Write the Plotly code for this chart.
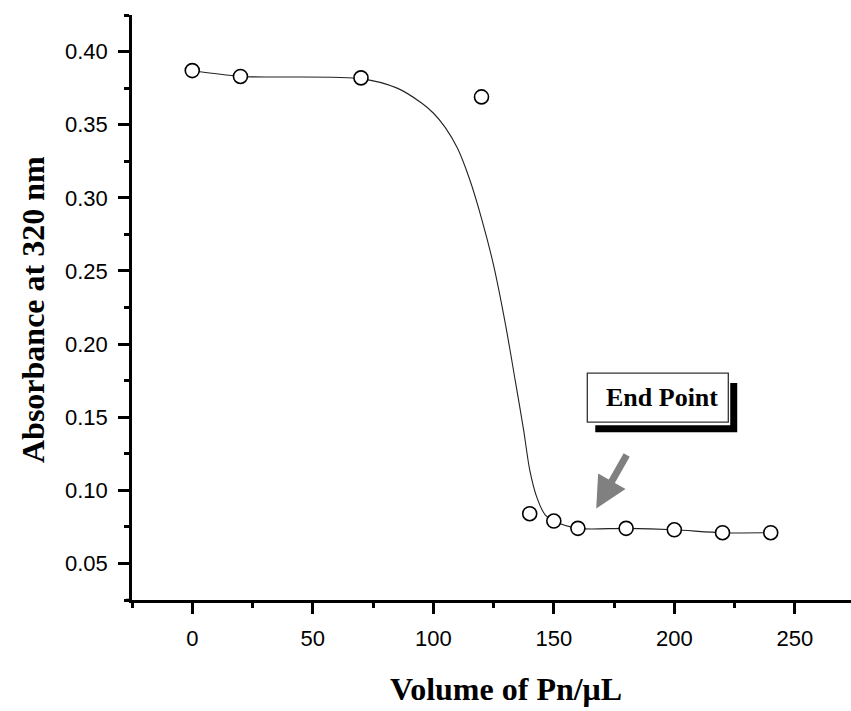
import plotly.graph_objects as go

# Measured points
volume = [0, 20, 70, 120, 140, 150, 160, 180, 200, 220, 240]
absorbance = [0.387, 0.383, 0.382, 0.369, 0.084, 0.079, 0.074, 0.074, 0.073, 0.071, 0.071]

# Fitted curve
fit_volume = [0, 20, 70, 85, 95, 100, 105, 110, 115, 120, 125, 130, 134, 137.5,
              140, 143, 146.5, 150, 160, 180, 200, 220, 240]
fit_absorbance = [0.387, 0.383, 0.3815, 0.375, 0.365, 0.358, 0.348, 0.334, 0.313,
                  0.286, 0.254, 0.213, 0.175, 0.141, 0.114, 0.095, 0.083, 0.079,
                  0.074, 0.074, 0.073, 0.071, 0.071]

x_ticks = [0, 50, 100, 150, 200, 250]
y_ticks = [0.05, 0.10, 0.15, 0.20, 0.25, 0.30, 0.35, 0.40]
y_tick_labels = ["0.05", "0.10", "0.15", "0.20", "0.25", "0.30", "0.35", "0.40"]

x_title = "Volume of Pn/μL"
y_title = "Absorbance at 320 nm"
note_text = "End Point"

W, H = 851, 711
L, R, T, B = 132, 0, 15, 111

fig = go.Figure()
fig.add_trace(go.Scatter(
    x=fit_volume, y=fit_absorbance, mode="lines",
    line=dict(color="#222222", width=1.1, shape="spline", smoothing=0.8),
    hoverinfo="skip", showlegend=False))
fig.add_trace(go.Scatter(
    x=volume, y=absorbance, mode="markers",
    marker=dict(symbol="circle", size=14, color="white",
                line=dict(color="black", width=1.6)),
    showlegend=False))

tick_font = dict(family="Liberation Sans, Arial", size=22, color="black")
title_font = dict(family="Liberation Serif, Times New Roman", size=32, color="black")

fig.update_xaxes(
    range=[-25, 273.3], tickmode="array", tickvals=x_ticks,
    ticktext=[str(v) for v in x_ticks],
    showline=True, linecolor="black", linewidth=2.5, mirror=False,
    ticks="outside", ticklen=11, tickwidth=2.5, tickcolor="black",
    minor=dict(dtick=25, tick0=-25, ticks="outside", ticklen=5, tickwidth=2.5,
               tickcolor="black", showgrid=False),
    showgrid=False, zeroline=False, tickfont=tick_font, ticklabelstandoff=6)
fig.update_yaxes(
    range=[0.025, 0.425], tickmode="array", tickvals=y_ticks, ticktext=y_tick_labels,
    showline=True, linecolor="black", linewidth=2.5, mirror=False,
    ticks="outside", ticklen=11, tickwidth=2.5, tickcolor="black",
    minor=dict(dtick=0.025, tick0=0.025, ticks="outside", ticklen=5, tickwidth=2.5,
               tickcolor="black", showgrid=False),
    showgrid=False, zeroline=False, tickfont=tick_font, ticklabelstandoff=6)

pw = W - L - R
ph = H - T - B

def px_to_paper_x(px):
    return (px - L) / pw

def px_to_paper_y(py):
    return (H - B - py) / ph

shapes = [
    # small overhang of x-axis line to the left of the y-axis
    dict(type="line", xref="paper", yref="paper",
         x0=px_to_paper_x(126), x1=0, y0=0, y1=0,
         line=dict(color="black", width=2.5)),
    # shadow of the label box
    dict(type="rect", xref="x", yref="y", x0=167.2, x1=226.1, y0=0.1397, y1=0.1733,
         fillcolor="black", line=dict(width=0), layer="above"),
    # white margin around label box
    dict(type="rect", xref="x", yref="y", x0=161.8, x1=223.2, y0=0.1445, y1=0.1815,
         fillcolor="white", line=dict(width=0), layer="above"),
    # label box
    dict(type="rect", xref="x", yref="y", x0=163.9, x1=222.4, y0=0.1466, y1=0.1801,
         fillcolor="white", line=dict(color="#333333", width=1.3), layer="above"),
]

annotations = [
    dict(x=px_to_paper_x(506), y=px_to_paper_y(689), xref="paper", yref="paper",
         text="<b>%s</b>" % x_title, showarrow=False, font=title_font,
         xanchor="center", yanchor="middle"),
    dict(x=px_to_paper_x(33), y=px_to_paper_y(310), xref="paper", yref="paper",
         text="<b>%s</b>" % y_title, showarrow=False, font=title_font,
         textangle=-90, xanchor="center", yanchor="middle"),
    dict(x=194.8, y=0.1632, xref="x", yref="y", text="<b>%s</b>" % note_text,
         showarrow=False, xanchor="center", yanchor="middle",
         font=dict(family="Liberation Serif, Times New Roman", size=26, color="black")),
    dict(x=167.6, y=0.0875, ax=180.6, ay=0.1251, xref="x", yref="y",
         axref="x", ayref="y", text="", showarrow=True, arrowhead=2,
         arrowsize=0.9, arrowwidth=7, arrowcolor="#808080", standoff=0),
]

fig.update_layout(
    width=W, height=H, margin=dict(l=L, r=R, t=T, b=B, pad=0),
    paper_bgcolor="white", plot_bgcolor="white",
    shapes=shapes, annotations=annotations, showlegend=False)

fig.write_html(
    "out.html",
    config={"displayModeBar": False},
    post_script="document.body.style.margin='0';document.body.style.overflow='hidden';")
